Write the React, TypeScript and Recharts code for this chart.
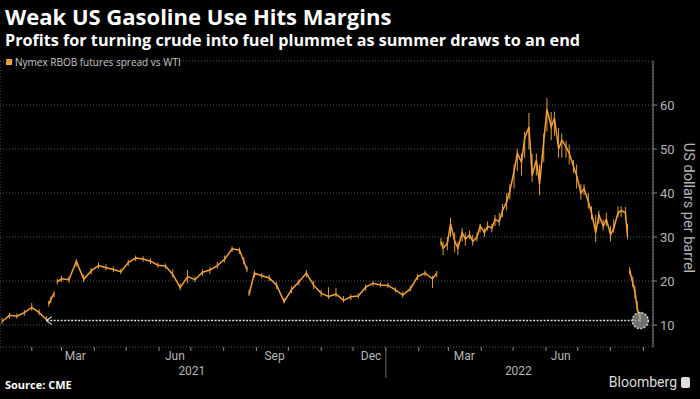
import React from 'react';
import { ComposedChart, Line, Bar, XAxis, YAxis, CartesianGrid, ReferenceLine, ReferenceDot } from 'recharts';

// Nymex RBOB vs WTI crack spread (weekly, denser around the 2022 spike)
const dates = [
  '2021-01-04', '2021-01-11', '2021-01-18', '2021-01-25', '2021-02-01', '2021-02-08', '2021-02-15', '2021-02-16',
  '2021-02-17', '2021-02-19', '2021-02-22', '2021-02-24', '2021-02-25', '2021-03-01', '2021-03-08', '2021-03-15',
  '2021-03-22', '2021-03-29', '2021-04-05', '2021-04-12', '2021-04-19', '2021-04-26', '2021-05-03', '2021-05-10',
  '2021-05-17', '2021-05-24', '2021-05-31', '2021-06-07', '2021-06-14', '2021-06-21', '2021-06-28', '2021-07-05',
  '2021-07-12', '2021-07-19', '2021-07-26', '2021-08-02', '2021-08-09', '2021-08-16', '2021-08-20', '2021-08-23',
  '2021-08-24', '2021-08-25', '2021-08-30', '2021-09-06', '2021-09-13', '2021-09-20', '2021-09-27', '2021-10-04',
  '2021-10-11', '2021-10-18', '2021-10-25', '2021-11-01', '2021-11-08', '2021-11-15', '2021-11-22', '2021-11-29',
  '2021-12-06', '2021-12-13', '2021-12-20', '2021-12-27', '2022-01-03', '2022-01-10', '2022-01-17', '2022-01-24',
  '2022-01-31', '2022-02-07', '2022-02-14', '2022-02-18', '2022-02-21', '2022-02-22', '2022-02-24', '2022-02-28',
  '2022-03-03', '2022-03-07', '2022-03-10', '2022-03-14', '2022-03-17', '2022-03-21', '2022-03-24', '2022-03-28',
  '2022-03-31', '2022-04-04', '2022-04-07', '2022-04-11', '2022-04-14', '2022-04-18', '2022-04-21', '2022-04-25',
  '2022-04-28', '2022-05-02', '2022-05-05', '2022-05-09', '2022-05-12', '2022-05-16', '2022-05-19', '2022-05-23',
  '2022-05-26', '2022-05-30', '2022-06-02', '2022-06-06', '2022-06-09', '2022-06-13', '2022-06-16', '2022-06-20',
  '2022-06-23', '2022-06-27', '2022-06-30', '2022-07-04', '2022-07-07', '2022-07-11', '2022-07-14', '2022-07-18',
  '2022-07-21', '2022-07-25', '2022-07-28', '2022-08-01', '2022-08-04', '2022-08-08', '2022-08-11', '2022-08-15',
  '2022-08-17', '2022-08-18', '2022-08-19', '2022-08-22', '2022-08-24', '2022-08-26', '2022-08-29',
];

const close = [
  10.8, 12.2, 12.0, 12.8, 14.0, 12.8, 11.2, null,
  14.8, 15.8, 17.2, null, 19.8, 20.5, 20.3, 24.5,
  20.4, 22.3, 23.5, 23.0, 22.6, 22.1, 24.2, 25.2,
  25.0, 24.5, 23.6, 23.4, 21.5, 18.5, 21.0, 20.3,
  22.0, 22.5, 23.5, 25.0, 27.3, 27.0, 24.5, 22.5,
  null, 17.0, 21.8, 21.2, 20.7, 19.0, 15.3, 18.0,
  19.8, 21.8, 19.0, 17.2, 16.5, 17.0, 15.6, 16.4,
  16.6, 18.6, 19.5, 19.1, 19.0, 18.0, 16.8, 18.2,
  21.0, 21.8, 20.5, 21.8, null, 28.9, 27.5, 28.5,
  33.0, 29.0, 27.5, 31.0, 29.5, 30.5, 29.0, 30.0,
  32.5, 31.0, 32.5, 32.0, 34.0, 33.5, 36.0, 38.0,
  40.5, 45.0, 49.0, 47.0, 52.5, 55.0, 44.0, 47.5,
  42.0, 52.0, 59.0, 55.0, 57.0, 50.0, 52.0, 50.5,
  49.0, 46.0, 44.0, 40.0, 41.0, 38.0, 35.5, 31.0,
  35.0, 32.5, 34.0, 30.5, 32.0, 35.5, 36.0, 35.5,
  30.0, null, 22.5, 19.5, 17.5, 14.0, 11.0,
];

const low = [
  10.2, 11.5, 11.4, 12.1, 13.2, 12.2, 10.8, null,
  14.2, 15.0, 16.3, null, 19.2, 19.8, 19.6, 23.2,
  19.8, 21.5, 22.8, 22.4, 22.0, 21.6, 23.4, 24.5,
  24.4, 23.8, 23.0, 22.8, 20.8, 17.9, 19.5, 19.7,
  21.2, 21.6, 22.8, 24.2, 26.6, 26.2, 23.8, 22.0,
  null, 16.6, 20.8, 20.6, 20.0, 18.2, 14.9, 17.2,
  19.0, 20.8, 18.2, 16.4, 15.9, 16.3, 15.1, 15.6,
  16.0, 17.8, 18.8, 18.6, 18.4, 17.4, 16.2, 17.6,
  20.2, 21.0, 18.4, 20.8, null, 28.0, 25.9, 27.0,
  30.0, 26.5, 25.9, 29.0, 28.0, 29.5, 28.0, 29.0,
  31.0, 30.0, 31.5, 31.0, 32.5, 32.5, 34.5, 36.0,
  38.5, 41.0, 45.0, 44.0, 48.0, 50.0, 42.5, 44.0,
  39.5, 47.0, 54.0, 52.0, 53.0, 48.0, 48.0, 48.0,
  46.5, 44.5, 41.0, 38.5, 39.5, 36.5, 34.0, 28.8,
  33.0, 31.5, 32.5, 29.0, 31.0, 34.5, 34.5, 34.0,
  29.5, null, 21.5, 18.6, 16.0, 13.0, 10.6,
];

const high = [
  11.6, 12.8, 12.6, 13.4, 15.0, 13.6, 12.0, null,
  15.5, 16.5, 17.8, null, 20.5, 21.2, 21.0, 25.0,
  21.5, 23.0, 24.2, 23.8, 23.3, 22.8, 24.8, 25.8,
  25.6, 25.1, 24.2, 24.0, 22.6, 19.5, 22.5, 21.0,
  22.6, 23.2, 24.4, 25.8, 27.9, 27.6, 25.4, 23.4,
  null, 18.0, 22.4, 21.8, 21.4, 19.8, 16.2, 18.8,
  20.4, 22.5, 20.0, 18.0, 18.6, 18.4, 16.6, 17.0,
  17.2, 19.2, 20.0, 19.7, 19.6, 18.6, 17.6, 18.9,
  21.6, 22.4, 21.2, 22.3, null, 29.8, 29.0, 30.0,
  34.3, 31.0, 29.0, 32.0, 31.0, 31.5, 30.5, 31.0,
  33.0, 32.0, 33.5, 33.0, 35.0, 35.5, 37.5, 40.0,
  42.0, 46.5, 50.0, 49.0, 54.0, 58.2, 49.0, 49.0,
  46.4, 53.5, 61.6, 58.4, 58.5, 54.8, 53.5, 51.8,
  51.0, 47.5, 46.5, 42.0, 42.0, 40.0, 37.0, 35.0,
  36.0, 34.0, 35.5, 32.5, 34.0, 37.0, 37.0, 36.8,
  33.0, null, 23.2, 21.0, 19.0, 15.5, 13.0,
];

const domainStart = '2021-01-02';
const domainEnd = '2022-09-10';
const monthStarts = [
  '2021-02-01', '2021-03-01', '2021-04-01', '2021-05-01', '2021-06-01', '2021-07-01', '2021-08-01', '2021-09-01',
  '2021-10-01', '2021-11-01', '2021-12-01', '2022-01-01', '2022-02-01', '2022-03-01', '2022-04-01', '2022-05-01',
  '2022-06-01', '2022-07-01', '2022-08-01', '2022-09-01',
];
const quarterStarts = ['2021-04-01', '2021-07-01', '2021-10-01', '2022-01-01', '2022-04-01', '2022-07-01'];
const monthLabelDates = ['2021-03-14', '2021-06-16', '2021-09-18', '2021-12-18', '2022-03-16', '2022-06-15'];
const monthLabels = ['Mar', 'Jun', 'Sep', 'Dec', 'Mar', 'Jun'];
const yearLabelDates = ['2021-07-02', '2022-05-06'];
const yearLabels = ['2021', '2022'];
const yearBreak = '2022-01-01';
const yTicks = [10, 20, 30, 40, 50, 60];
const lastValue = 11;
const arrowStart = '2021-02-15';

const ts = (d: string) => new Date(d).getTime();

const data = dates.map((d, i) => ({
  t: ts(d),
  close: close[i],
  range: low[i] == null ? null : [low[i], high[i]],
}));

const ORANGE = '#f0a23a';
const AXIS = '#8a8a8a';
const GRID = '#575757';
const TEXT = '#b5b5b5';
const FONT = 'Roboto, "Noto Sans", sans-serif';

const monthLabelTs = monthLabelDates.map(ts);
const yearLabelTs = yearLabelDates.map(ts);

const MonthTick = (props: any) => {
  const { x, y, payload } = props;
  const i = monthLabelTs.indexOf(payload.value);
  if (i >= 0) {
    return (
      <text x={x} y={y + 13} textAnchor="middle" fill={TEXT} fontSize={12} fontFamily={FONT}>
        {monthLabels[i]}
      </text>
    );
  }
  return <line x1={x} x2={x} y1={y} y2={y + 4} stroke={AXIS} strokeWidth={1} />;
};

const YearTick = (props: any) => {
  const { x, y, payload } = props;
  const i = yearLabelTs.indexOf(payload.value);
  if (i >= 0) {
    return (
      <text x={x} y={y + 12} textAnchor="middle" fill={TEXT} fontSize={12} fontFamily={FONT}>
        {yearLabels[i]}
      </text>
    );
  }
  return <line x1={x} x2={x} y1={y - 14} y2={y + 15} stroke="#666" strokeWidth={1} />;
};

const YLabel = (props: any) => {
  const vb = props.viewBox || {};
  const cx = vb.x + vb.width - 12;
  const cy = vb.y + vb.height / 2 + 4;
  return (
    <text
      x={cx}
      y={cy}
      transform={`rotate(90 ${cx} ${cy})`}
      textAnchor="middle"
      dominantBaseline="central"
      fill={TEXT}
      fontSize={14.5}
      fontFamily={FONT}
    >
      US dollars per barrel
    </text>
  );
};

const Chevron = (props: any) => {
  const { cx, cy } = props;
  return (
    <path
      d={`M${cx + 5},${cy - 4} L${cx},${cy} L${cx + 5},${cy + 4}`}
      stroke="#ddd"
      strokeWidth={1.2}
      fill="none"
    />
  );
};

export default function App() {
  return (
    <div
      style={{
        position: 'absolute',
        left: 0,
        top: 0,
        width: 700,
        height: 399,
        background: '#000',
        overflow: 'hidden',
        fontFamily: '"Open Sans", sans-serif',
      }}
    >
      <div style={{ position: 'absolute', left: 5, top: 1, color: '#fff', fontSize: 22, fontWeight: 700, whiteSpace: 'nowrap' }}>
        Weak US Gasoline Use Hits Margins
      </div>
      <div style={{ position: 'absolute', left: 5, top: 29, color: '#fff', fontSize: 16.2, fontWeight: 700, whiteSpace: 'nowrap' }}>
        Profits for turning crude into fuel plummet as summer draws to an end
      </div>
      <div style={{ position: 'absolute', left: 6, top: 55, display: 'flex', alignItems: 'center', color: '#ccc', fontSize: 10, whiteSpace: 'nowrap' }}>
        <span style={{ width: 6, height: 6, background: ORANGE, marginRight: 3, display: 'inline-block' }} />
        Nymex RBOB futures spread vs WTI
      </div>

      <div style={{ position: 'absolute', left: 0, top: 0 }}>
        <ComposedChart width={700} height={399} data={data} margin={{ top: 61, right: 0, bottom: 14, left: 0 }}>
          <CartesianGrid stroke={GRID} strokeDasharray="1 2" />
          <XAxis
            dataKey="t"
            type="number"
            scale="time"
            domain={[ts(domainStart), ts(domainEnd)]}
            ticks={quarterStarts.map(ts)}
            height={0}
            tick={false}
            tickLine={false}
            axisLine={{ stroke: AXIS }}
            allowDataOverflow
          />
          <XAxis
            xAxisId="months"
            dataKey="t"
            type="number"
            scale="time"
            domain={[ts(domainStart), ts(domainEnd)]}
            ticks={[...monthStarts.map(ts), ...monthLabelTs].sort((a, b) => a - b)}
            interval={0}
            height={16}
            tickSize={0}
            tickMargin={0}
            tickLine={false}
            axisLine={false}
            tick={<MonthTick />}
            allowDataOverflow
          />
          <XAxis
            xAxisId="years"
            dataKey="t"
            type="number"
            scale="time"
            domain={[ts(domainStart), ts(domainEnd)]}
            ticks={[yearLabelTs[0], ts(yearBreak), yearLabelTs[1]]}
            interval={0}
            height={22}
            tickSize={0}
            tickMargin={0}
            tickLine={false}
            axisLine={false}
            tick={<YearTick />}
            allowDataOverflow
          />
          <YAxis
            orientation="right"
            domain={[5, 70]}
            ticks={yTicks}
            width={47}
            tickSize={4}
            tickMargin={3}
            interval={0}
            axisLine={{ stroke: AXIS }}
            tickLine={{ stroke: AXIS }}
            tick={{ fill: TEXT, fontSize: 13, fontFamily: FONT }}
            label={<YLabel />}
            allowDataOverflow
          />
          <ReferenceLine
            segment={[
              { x: ts(arrowStart), y: lastValue },
              { x: ts(dates[dates.length - 1]), y: lastValue },
            ]}
            stroke="#e0e0e0"
            strokeWidth={1.5}
            strokeDasharray="2 1.5"
          />
          <Bar dataKey="range" fill={ORANGE} barSize={2} isAnimationActive={false} />
          <Line
            dataKey="close"
            stroke={ORANGE}
            strokeWidth={1.5}
            dot={false}
            connectNulls={false}
            type="linear"
            isAnimationActive={false}
          />
          <ReferenceDot x={ts(arrowStart)} y={lastValue} shape={<Chevron />} />
          <ReferenceDot
            x={ts(dates[dates.length - 1])}
            y={lastValue}
            r={8}
            fill="rgba(150,150,150,0.75)"
            stroke="#d8d8d8"
            strokeWidth={1.5}
            strokeDasharray="2 1.5"
          />
        </ComposedChart>
      </div>

      <div style={{ position: 'absolute', left: 5, top: 377, color: '#fff', fontSize: 11, fontWeight: 700, whiteSpace: 'nowrap' }}>
        Source: CME
      </div>
      <div style={{ position: 'absolute', right: 10, top: 374, display: 'flex', alignItems: 'center', color: '#ddd', fontSize: 14, whiteSpace: 'nowrap', fontFamily: FONT }}>
        Bloomberg
        <span
          style={{
            display: 'inline-block',
            width: 9,
            height: 11,
            marginLeft: 4,
            background: '#ddd',
            borderRadius: 2,
          }}
        />
      </div>
    </div>
  );
}
